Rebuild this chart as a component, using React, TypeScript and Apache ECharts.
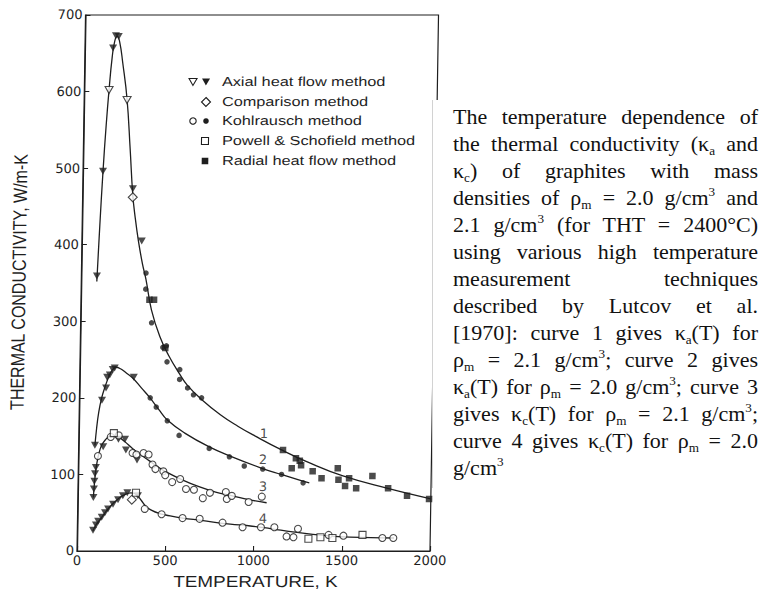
import React, { useEffect, useRef } from "react";
import * as echarts from "echarts";

// ---------- axes ----------
const X_MIN = 0;
const X_MAX = 2000;
const X_STEP = 500;
const Y_MIN = 0;
const Y_MAX = 700;
const Y_STEP = 100;
const xAxisTitle = "TEMPERATURE, K";
const yAxisTitle = "THERMAL CONDUCTIVITY, W/m-K";
const legendLabels = [
  "Axial heat flow method",
  "Comparison method",
  "Kohlrausch method",
  "Powell & Schofield method",
  "Radial heat flow method",
];

// ---------- fitted curves (T [K], k [W/m-K]) ----------
const curve1: [number, number][] = [
  [88, 352], [100, 425], [113, 495], [127, 556], [140, 602], [155, 645], [168, 666],
  [182, 672], [196, 665], [215, 638], [243, 590], [265, 525], [284, 465], [300, 435],
  [320, 405], [345, 375], [366, 355], [400, 315], [450, 280], [500, 256], [566, 231],
  [612, 216], [692, 198], [800, 178], [900, 163], [1000, 150], [1150, 132], [1300, 116],
  [1500, 98], [1750, 82], [2000, 68],
];
const curve2: [number, number][] = [
  [92, 138], [100, 160], [110, 180], [125, 199], [145, 215], [165, 228], [185, 237],
  [205, 240], [230, 238], [260, 233], [300, 226], [350, 213], [400, 200], [450, 185],
  [500, 171], [600, 154], [740, 136], [870, 123], [1040, 108], [1150, 100], [1250, 93],
  [1310, 89],
];
const curve3: [number, number][] = [
  [88, 70], [92, 86], [97, 100], [105, 115], [115, 127], [130, 138], [150, 145],
  [175, 150], [200, 151], [225, 149], [260, 143], [305, 134], [350, 126], [400, 118],
  [450, 110], [500, 103], [590, 93], [685, 84], [780, 77], [875, 72], [970, 67], [1070, 63],
];
const curve4: [number, number][] = [
  [88, 26], [105, 34], [137, 44], [172, 55], [200, 62], [228, 68], [260, 73], [300, 76],
  [330, 74], [360, 66], [387, 58], [420, 53], [462, 49], [500, 47], [595, 43], [700, 40],
  [866, 35], [970, 33], [1100, 29], [1220, 25], [1410, 20], [1545, 18], [1795, 17],
];

// ---------- measured points by method ----------
const axialOpen: [number, number][] = [[140, 602], [243, 589]];
const axialFilled: [number, number][] = [
  [88, 359], [113, 496], [159, 657], [174, 673], [190, 672], [284, 473], [339, 405],
  [92, 138], [128, 197], [150, 213], [155, 227], [170, 230], [186, 237], [197, 239], [306, 227],
  [88, 70], [90, 81], [92, 91], [95, 101], [99, 109], [139, 136], [225, 146], [262, 146],
  [268, 132], [332, 119],
  [89, 27], [105, 34], [117, 39], [137, 44], [155, 50], [172, 55], [200, 61], [228, 67],
  [255, 72], [280, 76], [340, 72],
];
const comparison: [number, number][] = [[284, 462], [306, 67]];
const kohlOpen: [number, number][] = [
  [110, 124], [181, 149], [226, 151], [306, 128], [328, 126], [368, 128], [397, 126],
  [420, 113], [437, 107], [482, 104], [493, 99], [533, 90], [578, 94], [612, 81], [657, 80],
  [708, 69], [748, 76], [838, 77], [844, 68], [872, 72], [968, 64], [1042, 71],
  [380, 55], [476, 48], [595, 43], [692, 42], [822, 37], [936, 31], [1040, 31], [1116, 31],
  [1186, 19], [1225, 18], [1250, 29], [1424, 21], [1508, 20], [1729, 17], [1791, 17],
];
const kohlFilled: [number, number][] = [
  [366, 363], [366, 342], [402, 298], [468, 266], [488, 268], [493, 247], [566, 237],
  [566, 224], [612, 213], [646, 204], [692, 200],
  [401, 200], [436, 188], [500, 170], [568, 151], [740, 134], [855, 123], [940, 111],
  [1045, 107], [1152, 100], [1275, 89],
];
const powell: [number, number][] = [
  [198, 154], [329, 76], [1310, 16], [1378, 18], [1446, 17], [1616, 21],
];
const radial: [number, number][] = [
  [388, 328], [414, 328], [482, 265], [1158, 132], [1209, 108], [1232, 121], [1254, 118],
  [1262, 112], [1328, 104], [1379, 95], [1470, 108], [1475, 93], [1513, 85], [1535, 95],
  [1576, 82], [1667, 98], [1757, 82], [1865, 72], [1990, 68],
];
const curveLabelAnchors: [number, number][] = [[1048, 154], [1046, 119], [1048, 84], [1051, 43]];
const curveLabelTexts = ["1", "2", "3", "4"];

// ---------- styling / layout ----------
const INK = "#1e1e1e";
const PLOT_BOTTOM = 551;
const SKEW = 0.0159; // scanned figure leans right toward the top
const sk = (x: number, y: number) => x - SKEW * (PLOT_BOTTOM - y);
const LINE_PITCH = 27;

const Sub = ({ children }: { children: React.ReactNode }) => (
  <span style={{ fontSize: "0.6em", lineHeight: 0, verticalAlign: "-0.3em" }}>{children}</span>
);
const Sup = ({ children }: { children: React.ReactNode }) => (
  <span style={{ fontSize: "0.6em", lineHeight: 0, verticalAlign: "0.65em" }}>{children}</span>
);

const captionLines: React.ReactNode[] = [
  <>The temperature dependence of</>,
  <>the thermal conductivity (κ<Sub>a</Sub> and</>,
  <>κ<Sub>c</Sub>) of graphites with mass</>,
  <>densities of ρ<Sub>m</Sub> = 2.0 g/cm<Sup>3</Sup> and</>,
  <>2.1 g/cm<Sup>3</Sup> (for THT = 2400°C)</>,
  <>using various high temperature</>,
  <>measurement techniques</>,
  <>described by Lutcov et al.</>,
  <>[1970]: curve 1 gives κ<Sub>a</Sub>(T) for</>,
  <>ρ<Sub>m</Sub> = 2.1 g/cm<Sup>3</Sup>; curve 2 gives</>,
  <>κ<Sub>a</Sub>(T) for ρ<Sub>m</Sub> = 2.0 g/cm<Sup>3</Sup>; curve 3</>,
  <>gives κ<Sub>c</Sub>(T) for ρ<Sub>m</Sub> = 2.1 g/cm<Sup>3</Sup>;</>,
  <>curve 4 gives κ<Sub>c</Sub>(T) for ρ<Sub>m</Sub> = 2.0</>,
  <>g/cm<Sup>3</Sup></>,
];

function buildOption(): echarts.EChartsOption {
  const open = { color: "#fff", borderColor: INK, borderWidth: 1.1 };
  const filled = { color: INK };
  const lineSeries = (data: [number, number][]) => ({
    type: "line" as const,
    data,
    smooth: 0.45,
    showSymbol: false,
    silent: true,
    z: 2,
    lineStyle: { color: INK, width: 1.3 },
  });
  const legendRowsY = [82, 102, 121, 141, 161];
  const legendGraphics: any[] = [];
  const tri = [[-4, -3.5], [4, -3.5], [0, 3.5]];
  legendGraphics.push(
    { type: "polygon", x: sk(193, 82), y: 82, shape: { points: tri }, style: { fill: "#fff", stroke: INK, lineWidth: 1.1 } },
    { type: "polygon", x: sk(206, 82), y: 82, shape: { points: tri }, style: { fill: INK } },
    { type: "polygon", x: sk(206, 102), y: 102, shape: { points: [[0, -4.5], [4.5, 0], [0, 4.5], [-4.5, 0]] }, style: { fill: "#fff", stroke: INK, lineWidth: 1.1 } },
    { type: "circle", x: sk(193, 121), y: 121, shape: { cx: 0, cy: 0, r: 3.2 }, style: { fill: "#fff", stroke: INK, lineWidth: 1.1 } },
    { type: "circle", x: sk(206, 121), y: 121, shape: { cx: 0, cy: 0, r: 2.8 }, style: { fill: INK } },
    { type: "rect", x: sk(205, 141), y: 141, shape: { x: -3.5, y: -3.5, width: 7, height: 7 }, style: { fill: "#fff", stroke: INK, lineWidth: 1.1 } },
    { type: "rect", x: sk(205, 161), y: 161, shape: { x: -3.3, y: -3.3, width: 6.6, height: 6.6 }, style: { fill: INK } }
  );
  legendLabels.forEach((t, i) => {
    const y = legendRowsY[i];
    legendGraphics.push({
      type: "text",
      x: sk(222, y),
      y,
      scaleX: 1.25,
      style: { text: t, font: '13px "Liberation Sans"', fill: INK, align: "left", verticalAlign: "middle" },
    });
  });

  const axisCommon = {
    axisLine: { show: true, lineStyle: { color: INK, width: 1.2 } },
    axisTick: { show: true, inside: true, length: 5, lineStyle: { color: INK, width: 1.1 } },
    axisLabel: {
      color: INK,
      fontFamily: "DejaVu Sans",
      fontSize: 13,
      margin: 3,
      formatter: (v: number) => String(v),
    },
    splitLine: { show: false },
  };

  return {
    animation: false,
    backgroundColor: "transparent",
    grid: {
      left: 77,
      right: 333,
      top: 15,
      bottom: 41,
      show: true,
      borderColor: INK,
      borderWidth: 1.2,
    },
    xAxis: { type: "value", min: X_MIN, max: X_MAX, interval: X_STEP, ...axisCommon },
    yAxis: { type: "value", min: Y_MIN, max: Y_MAX, interval: Y_STEP, ...axisCommon },
    series: [
      lineSeries(curve1),
      lineSeries(curve2),
      lineSeries(curve3),
      lineSeries(curve4),
      { type: "scatter", name: "axialOpen", data: axialOpen, symbol: "triangle", symbolRotate: 180, symbolSize: [8, 7], itemStyle: open, z: 4 },
      { type: "scatter", name: "axialFilled", data: axialFilled, symbol: "triangle", symbolRotate: 180, symbolSize: [8, 7], itemStyle: filled, z: 4 },
      { type: "scatter", name: "comparison", data: comparison, symbol: "diamond", symbolSize: 9, itemStyle: open, z: 4 },
      { type: "scatter", name: "kohlOpen", data: kohlOpen, symbol: "circle", symbolSize: 7, itemStyle: open, z: 4 },
      { type: "scatter", name: "kohlFilled", data: kohlFilled, symbol: "circle", symbolSize: 5.5, itemStyle: filled, z: 4 },
      { type: "scatter", name: "powell", data: powell, symbol: "rect", symbolSize: 7, itemStyle: open, z: 4 },
      { type: "scatter", name: "radial", data: radial, symbol: "rect", symbolSize: 6.5, itemStyle: filled, z: 4 },
      {
        type: "scatter",
        name: "curveLabels",
        data: curveLabelAnchors.map((p, i) => [p[0], p[1], curveLabelTexts[i]]),
        symbolSize: 1,
        itemStyle: { color: "rgba(0,0,0,0)" },
        silent: true,
        label: {
          show: true,
          position: "inside",
          formatter: (p: any) => p.value[2],
          color: INK,
          fontFamily: "DejaVu Sans",
          fontSize: 13,
        },
        z: 5,
      },
    ],
    graphic: [
      {
        type: "text",
        x: sk(19, 282),
        y: 282,
        rotation: Math.PI / 2,
        scaleY: 1.2,
        style: { text: yAxisTitle, font: '16px "Liberation Sans"', fill: INK, align: "center", verticalAlign: "middle" },
      },
      {
        type: "text",
        x: sk(255.5, 582),
        y: 582,
        scaleX: 1.18,
        style: { text: xAxisTitle, font: '16px "Liberation Sans"', fill: INK, align: "center", verticalAlign: "middle" },
      },
      ...legendGraphics,
    ],
  };
}

export default function App() {
  const ref = useRef<HTMLDivElement>(null);
  useEffect(() => {
    if (!ref.current) return;
    const chart = echarts.init(ref.current, undefined, { renderer: "svg" });
    chart.setOption(buildOption());
    return () => chart.dispose();
  }, []);

  return (
    <div style={{ position: "fixed", left: 0, top: 0, width: 763, height: 592, background: "#fff", overflow: "hidden" }}>
      <div
        ref={ref}
        style={{
          position: "absolute",
          left: 0,
          top: 0,
          width: 763,
          height: 592,
          transform: "skewX(-0.91deg)",
          transformOrigin: "0px 551px",
        }}
      />
      <div
        style={{
          position: "absolute",
          left: 432,
          top: 100,
          width: 331,
          height: 388,
          boxSizing: "border-box",
          background: "#fff",
          borderLeft: "1px solid #d2d2d2",
          paddingLeft: 20,
          paddingRight: 5,
          paddingTop: 3,
          fontFamily: '"Liberation Serif", "Times New Roman", serif',
          fontSize: 22,
          lineHeight: `${LINE_PITCH}px`,
          color: "#111",
        }}
      >
        {captionLines.map((ln, i) => (
          <div
            key={i}
            style={{
              height: LINE_PITCH,
              textAlign: "justify",
              textAlignLast: i === captionLines.length - 1 ? "left" : "justify",
            }}
          >
            {ln}
          </div>
        ))}
      </div>
    </div>
  );
}
